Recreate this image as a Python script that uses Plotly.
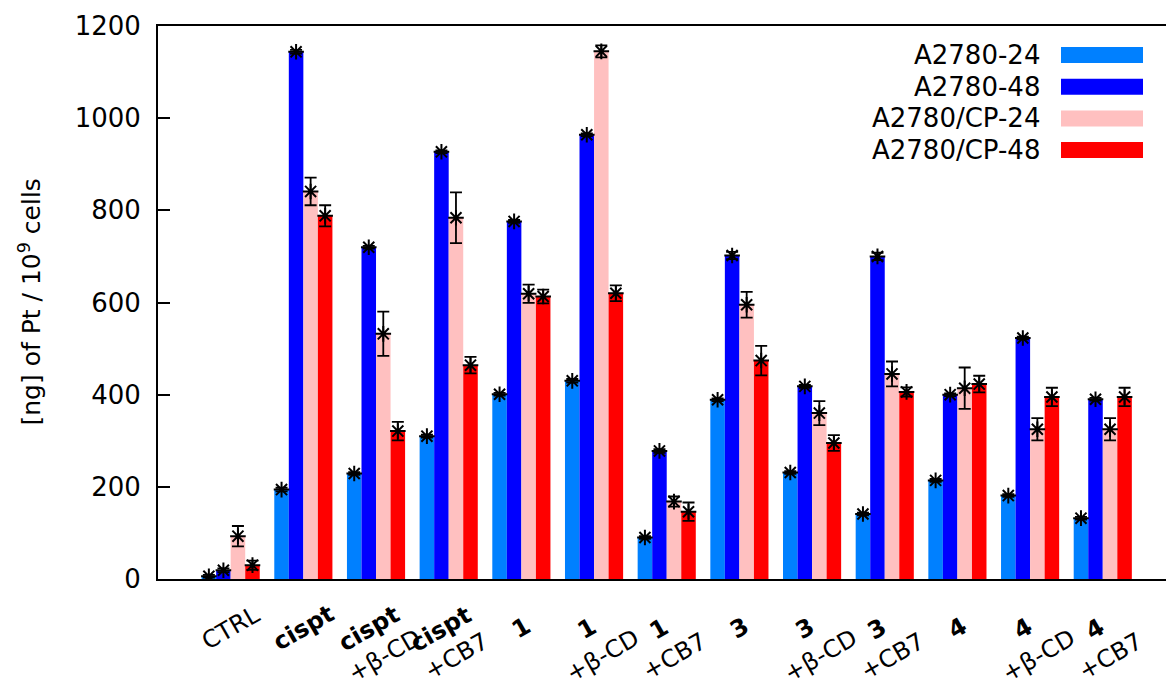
import plotly.graph_objects as go

categories = ["CTRL", "<b>cispt</b>", "<b>cispt</b><br>+β-CD", "<b>cispt</b><br>+CB7",
              "<b>1</b>", "<b>1</b><br>+β-CD", "<b>1</b><br>+CB7",
              "<b>3</b>", "<b>3</b><br>+β-CD", "<b>3</b><br>+CB7",
              "<b>4</b>", "<b>4</b><br>+β-CD", "<b>4</b><br>+CB7"]

series_names = ["A2780-24", "A2780-48", "A2780/CP-24", "A2780/CP-48"]

a2780_24 = [6, 194, 229, 310, 401, 430, 90, 389, 231, 141, 214, 181, 132]
a2780_24_err = [3, 4, 3, 3, 3, 4, 3, 3, 3, 3, 3, 3, 3]
a2780_48 = [19, 1144, 720, 927, 776, 964, 278, 702, 418, 700, 400, 523, 390]
a2780_48_err = [4, 4, 3, 3, 3, 3, 4, 8, 3, 8, 3, 3, 3]
cp_24 = [93, 841, 532, 784, 619, 1145, 168, 595, 360, 445, 414, 325, 325]
cp_24_err = [22, 30, 48, 55, 20, 13, 11, 28, 26, 27, 45, 24, 24]
cp_48 = [30, 788, 321, 464, 613, 620, 146, 474, 295, 406, 423, 395, 395]
cp_48_err = [10, 23, 20, 18, 15, 17, 20, 32, 17, 10, 18, 20, 20]

y_ticks = [0, 200, 400, 600, 800, 1000, 1200]

values = [a2780_24, a2780_48, cp_24, cp_48]
errors = [a2780_24_err, a2780_48_err, cp_24_err, cp_48_err]
colors = ["#0080ff", "#0000ff", "#ffc0c0", "#ff0000"]

FONT = "DejaVu Sans"
W, H = 1166, 681
ML, MR, MT, MB = 158, 0, 26, 102
n = len(categories)
idx = list(range(n))
bargap = 0.2
bw = (1 - bargap) / len(values)

fig = go.Figure()
for k, (name, vals, errs, col) in enumerate(zip(series_names, values, errors, colors)):
    fig.add_trace(go.Bar(
        x=idx, y=vals, name=name, marker=dict(color=col, line=dict(width=0)),
        error_y=dict(type="data", array=errs, visible=True, color="black",
                     thickness=1.8, width=6),
        showlegend=False,
    ))
for k, vals in enumerate(values):
    off = -(1 - bargap) / 2 + bw * (k + 0.5)
    fig.add_trace(go.Scatter(
        x=[i + off for i in idx], y=vals, mode="markers",
        marker=dict(symbol="asterisk-open", size=13, color="black",
                    line=dict(color="black", width=2)),
        showlegend=False, hoverinfo="skip",
    ))

annotations = []
# x category labels
for i, lab in enumerate(categories):
    two = "<br>" in lab
    annotations.append(dict(
        x=i, xref="x", y=0, yref="paper", yanchor="middle", xanchor="center",
        yshift=-(63 if two else 49), text=lab, textangle=-30, showarrow=False,
        font=dict(family=FONT, size=24, color="black"), align="center",
    ))

# y axis title
annotations.append(dict(
    x=0, xref="paper", xshift=-(ML - 30), y=0.5, yref="paper",
    text="[ng] of Pt / 10<sup>9</sup> cells", textangle=-90, showarrow=False,
    xanchor="center", yanchor="middle", font=dict(family=FONT, size=25, color="black"),
))

# custom legend (text on the left, swatch on the right)
pw = W - ML - MR
ph = H - MT - MB
shapes = []
for k, (name, col) in enumerate(zip(series_names, colors)):
    yc = 1 - (29 + 31.7 * k) / ph
    annotations.append(dict(
        x=(1042 - ML) / pw, xref="paper", y=yc, yref="paper", xanchor="right",
        yanchor="middle", text=name, showarrow=False,
        font=dict(family=FONT, size=26, color="black"),
    ))
    shapes.append(dict(
        type="rect", xref="paper", yref="paper",
        x0=(1061 - ML) / pw, x1=(1143 - ML) / pw,
        y0=yc - 8 / ph, y1=yc + 8 / ph, fillcolor=col, line=dict(width=0),
    ))

fig.update_layout(
    width=W, height=H, margin=dict(l=ML, r=MR, t=MT, b=MB),
    paper_bgcolor="white", plot_bgcolor="white",
    barmode="group", bargap=bargap, bargroupgap=0,
    annotations=annotations, shapes=shapes, showlegend=False,
    font=dict(family=FONT, size=26, color="black"),
)
fig.update_xaxes(range=[-1.0, n - 0.13], showgrid=False, zeroline=False,
                 showticklabels=False, ticks="", showline=True,
                 linecolor="black", linewidth=2, mirror=True)
fig.update_yaxes(range=[0, 1200], tickvals=y_ticks, ticks="inside", ticklen=12,
                 tickwidth=1.5, tickcolor="black", showgrid=False, zeroline=False,
                 showline=True, linecolor="black", linewidth=2,
                 tickfont=dict(family=FONT, size=26, color="black"),
                 ticklabelstandoff=10)

fig.write_html("out.html", config={"displayModeBar": False},
               post_script="document.body.style.margin='0';document.body.style.overflow='hidden';")
